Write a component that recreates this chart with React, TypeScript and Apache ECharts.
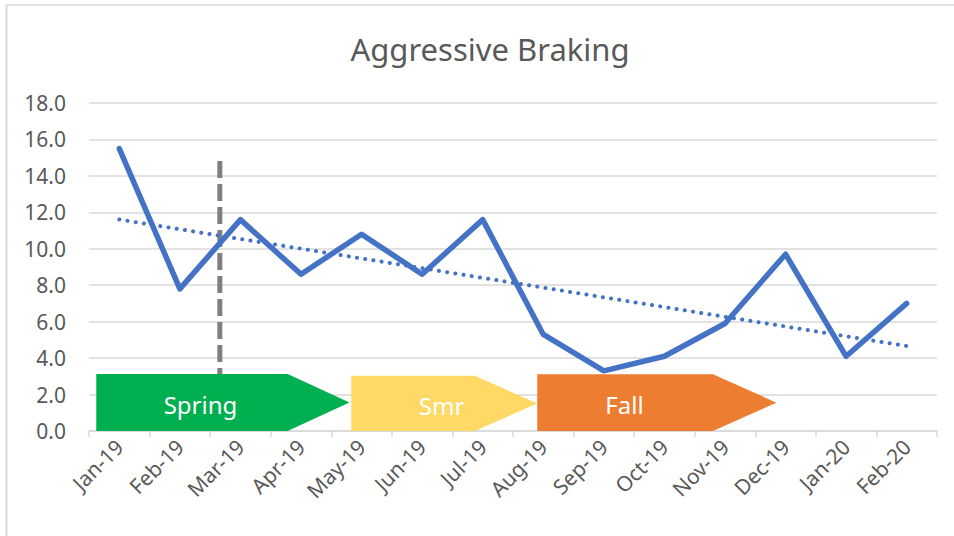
import React, { useEffect, useRef } from "react";
import * as echarts from "echarts";

const TITLE = "Aggressive Braking";
const months = ["Jan-19", "Feb-19", "Mar-19", "Apr-19", "May-19", "Jun-19", "Jul-19", "Aug-19", "Sep-19", "Oct-19", "Nov-19", "Dec-19", "Jan-20", "Feb-20"];
const braking = [15.5, 7.8, 11.6, 8.6, 10.8, 8.6, 11.6, 5.3, 3.3, 4.1, 5.9, 9.7, 4.1, 7.0];
const yTicks = { min: 0, max: 18, interval: 2 };

// season arrows: [start, bodyEnd, tip, top, labelX] in category-index / value units
const seasonNames = ["Spring", "Smr", "Fall"];
const seasonColors = ["#00B050", "#FFD966", "#ED7D31"];
const seasonShapes = [
  [-0.38, 2.78, 3.8, 3.13, 1.34],
  [3.83, 5.87, 6.9, 3.03, 5.32],
  [6.9, 9.8, 10.85, 3.11, 8.34],
];
// vertical dashed marker: [x index position, top value]
const markerLine = [[1.66, 0], [1.66, 14.9]];

const FONT = '"Noto Sans", "Open Sans", sans-serif';

function trend(values: number[]) {
  const n = values.length;
  const mx = (n - 1) / 2;
  const my = values.reduce((a, b) => a + b, 0) / n;
  let sxy = 0, sxx = 0;
  values.forEach((v, i) => { sxy += (i - mx) * (v - my); sxx += (i - mx) * (i - mx); });
  const b = sxy / sxx;
  const a = my - b * mx;
  return [[0, a], [n - 1, a + b * (n - 1)]];
}

export default function App() {
  const ref = useRef<HTMLDivElement>(null);
  useEffect(() => {
    const chart = echarts.init(ref.current!, null, { renderer: "svg" });
    const option: any = {
      animation: false,
      backgroundColor: "#ffffff",
      title: {
        text: TITLE,
        left: 485,
        top: 28,
        textAlign: "center",
        textStyle: { fontFamily: FONT, fontSize: 31, fontWeight: "normal", color: "#595959" },
      },
      graphic: [
        { type: "line", shape: { x1: 6, y1: 5, x2: 954, y2: 5 }, style: { stroke: "#d9d9d9", lineWidth: 1.5 } },
        { type: "line", shape: { x1: 6.5, y1: 5, x2: 6.5, y2: 536 }, style: { stroke: "#d9d9d9", lineWidth: 2 } },
      ],
      grid: { left: 89, right: 17, top: 103, bottom: 105 },
      xAxis: [
        {
          type: "category",
          data: months,
          boundaryGap: true,
          axisLine: { lineStyle: { color: "#d9d9d9", width: 1.5 } },
          axisTick: { show: true, length: 6, lineStyle: { color: "#d9d9d9", width: 1.5 } },
          axisLabel: { rotate: 45, margin: 12, fontSize: 21, fontFamily: FONT, color: "#595959", interval: 0 },
          splitLine: { show: false },
        },
        { type: "value", min: -0.5, max: 13.5, show: false },
      ],
      yAxis: {
        type: "value",
        min: yTicks.min,
        max: yTicks.max,
        interval: yTicks.interval,
        axisLine: { show: false },
        axisTick: { show: false },
        axisLabel: { fontSize: 21, fontFamily: FONT, color: "#595959", margin: 23, formatter: (v: number) => v.toFixed(1) },
        splitLine: { lineStyle: { color: "#d9d9d9", width: 1.5 } },
      },
      series: [
        {
          type: "line",
          name: "marker",
          xAxisIndex: 1,
          data: markerLine,
          symbol: "none",
          z: 1,
          lineStyle: { color: "#7f7f7f", width: 5, type: [17, 6] },
        },
        {
          type: "line",
          name: "Braking",
          data: braking,
          symbol: "none",
          z: 3,
          lineStyle: { color: "#4472C4", width: 5.5, cap: "round", join: "round" },
        },
        {
          type: "line",
          name: "Trend",
          xAxisIndex: 1,
          data: trend(braking),
          symbol: "none",
          z: 3,
          lineStyle: { color: "#4472C4", width: 4, type: [0.1, 8.2], cap: "round" },
        },
        {
          type: "custom",
          name: "Seasons",
          xAxisIndex: 1,
          clip: false,
          z: 4,
          data: seasonShapes,
          renderItem: (params: any, api: any) => {
            const i = params.dataIndex;
            const s = api.value(0), e = api.value(1), t = api.value(2), top = api.value(3), lx = api.value(4);
            const p1 = api.coord([s, top]);
            const p2 = api.coord([e, top]);
            const p3 = api.coord([t, top / 2]);
            const p4 = api.coord([e, 0]);
            const p5 = api.coord([s, 0]);
            const lp = api.coord([lx, top / 2]);
            return {
              type: "group",
              children: [
                { type: "polygon", shape: { points: [p1, p2, p3, p4, p5] }, style: { fill: seasonColors[i] } },
                {
                  type: "text",
                  x: lp[0],
                  y: lp[1] + 2,
                  style: { text: seasonNames[i], fill: "#ffffff", fontSize: 24, fontFamily: FONT, align: "center", verticalAlign: "middle" },
                },
              ],
            };
          },
        },
      ],
    };
    chart.setOption(option);
    return () => chart.dispose();
  }, []);
  return <div ref={ref} style={{ position: "absolute", left: 0, top: 0, width: 954, height: 536 }} />;
}
